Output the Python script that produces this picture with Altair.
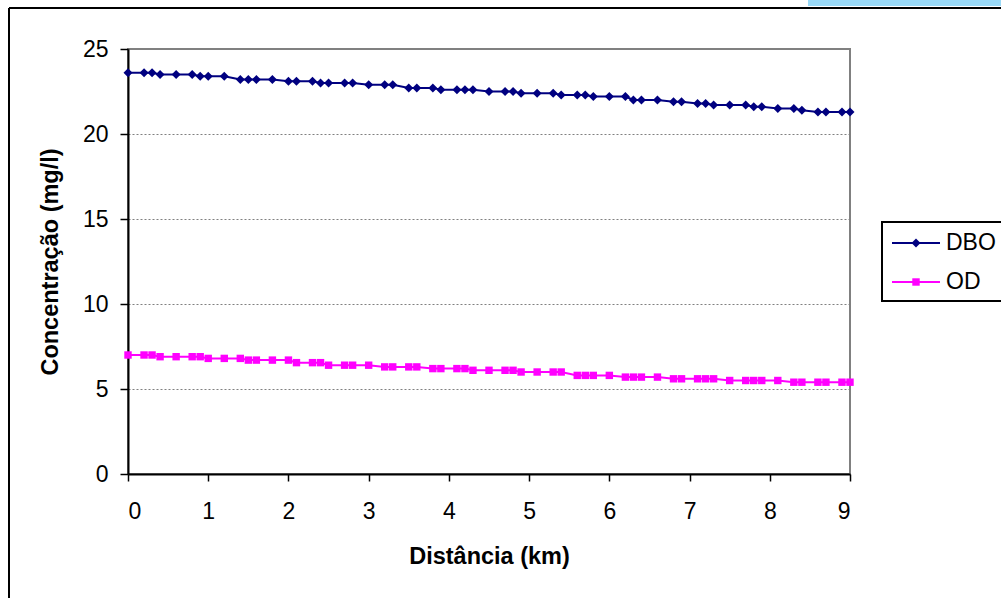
import altair as alt
import pandas as pd

# --- data ---
distance_km = [0.0, 0.2, 0.3, 0.4, 0.6, 0.8, 0.9, 1.0, 1.2, 1.4, 1.5, 1.6, 1.8, 2.0, 2.1,
               2.3, 2.4, 2.5, 2.7, 2.8, 3.0, 3.2, 3.3, 3.5, 3.6, 3.8, 3.9, 4.1, 4.2, 4.3,
               4.5, 4.7, 4.8, 4.9, 5.1, 5.3, 5.4, 5.6, 5.7, 5.8, 6.0, 6.2, 6.3, 6.4, 6.6,
               6.8, 6.9, 7.1, 7.2, 7.3, 7.5, 7.7, 7.8, 7.9, 8.1, 8.3, 8.4, 8.6, 8.7, 8.9, 9.0]

dbo = [23.6, 23.6, 23.6, 23.5, 23.5, 23.5, 23.4, 23.4, 23.4, 23.2, 23.2, 23.2, 23.2, 23.1, 23.1,
       23.1, 23.0, 23.0, 23.0, 23.0, 22.9, 22.9, 22.9, 22.7, 22.7, 22.7, 22.6, 22.6, 22.6, 22.6,
       22.5, 22.5, 22.5, 22.4, 22.4, 22.4, 22.3, 22.3, 22.3, 22.2, 22.2, 22.2, 22.0, 22.0, 22.0,
       21.9, 21.9, 21.8, 21.8, 21.7, 21.7, 21.7, 21.6, 21.6, 21.5, 21.5, 21.4, 21.3, 21.3, 21.3, 21.3]

od = [7.0, 7.0, 7.0, 6.9, 6.9, 6.9, 6.9, 6.8, 6.8, 6.8, 6.7, 6.7, 6.7, 6.7, 6.55,
      6.55, 6.55, 6.4, 6.4, 6.4, 6.4, 6.3, 6.3, 6.3, 6.3, 6.2, 6.2, 6.2, 6.2, 6.1,
      6.1, 6.1, 6.1, 6.0, 6.0, 6.0, 6.0, 5.8, 5.8, 5.8, 5.8, 5.7, 5.7, 5.7, 5.7,
      5.6, 5.6, 5.6, 5.6, 5.6, 5.5, 5.5, 5.5, 5.5, 5.5, 5.4, 5.4, 5.4, 5.4, 5.4, 5.4]

series_names = ["DBO", "OD"]
series_colors = ["#000080", "#FF00FF"]
series_shapes = ["diamond", "square"]
series_sizes = [81, 55]

x_ticks = list(range(0, 10))
y_ticks = [0, 5, 10, 15, 20, 25]

df = pd.DataFrame({
    "Distância": distance_km + distance_km,
    "Concentração": dbo + od,
    "Série": ["DBO"] * len(dbo) + ["OD"] * len(od),
})
legend_df = pd.DataFrame({"Série": series_names})

FONT = "Liberation Sans"
TICK_FS = 23
TITLE_FS = 23.5

x_enc = alt.X(
    "Distância:Q",
    scale=alt.Scale(domain=[0, 9], nice=False, zero=False),
    axis=alt.Axis(
        title="Distância (km)",
        values=x_ticks,
        format="d",
        grid=False,
        domainColor="black",
        domainWidth=2,
        tickColor="black",
        tickWidth=1.5,
        tickSize=7,
        labelFont=FONT,
        labelFontSize=TICK_FS,
        labelColor="black",
        labelPadding=19,
        titleFont=FONT,
        titleFontSize=TITLE_FS,
        titleFontWeight="bold",
        titleColor="black",
        titlePadding=21,
    ),
)

y_enc = alt.Y(
    "Concentração:Q",
    scale=alt.Scale(domain=[0, 25], nice=False),
    axis=alt.Axis(
        title="Concentração (mg/l)",
        values=y_ticks,
        grid=True,
        gridColor="#808080",
        gridDash=[2, 2],
        gridWidth=1,
        domainColor="black",
        domainWidth=2,
        tickColor="black",
        tickWidth=1.5,
        tickSize=8,
        labelFont=FONT,
        labelFontSize=TICK_FS,
        labelColor="black",
        labelPadding=12,
        titleFont=FONT,
        titleFontSize=TITLE_FS,
        titleFontWeight="bold",
        titleColor="black",
        titlePadding=20,
    ),
)

stroke_scale = alt.Scale(domain=series_names, range=series_colors)
fill_scale = alt.Scale(domain=series_names, range=series_colors)
shape_scale = alt.Scale(domain=series_names, range=series_shapes)
size_scale = alt.Scale(domain=series_names, range=series_sizes)

base = alt.Chart(df)

lines = base.mark_line(strokeWidth=2).encode(
    x=x_enc,
    y=y_enc,
    stroke=alt.Stroke("Série:N", scale=stroke_scale, legend=None),
)

points = base.mark_point(filled=True, opacity=1, strokeWidth=0).encode(
    x=x_enc,
    y=y_enc,
    fill=alt.Fill("Série:N", scale=fill_scale, legend=None),
    shape=alt.Shape("Série:N", scale=shape_scale, legend=None),
    size=alt.Size("Série:N", scale=size_scale, legend=None),
)

one = pd.DataFrame({"k": [0]})
border_left = alt.Chart(one).mark_rule(color="black", strokeWidth=2).encode(
    x=alt.value(-119), y=alt.value(-41), y2=alt.value(560)
)
border_top = alt.Chart(one).mark_rule(color="black", strokeWidth=2).encode(
    x=alt.value(-119), x2=alt.value(880), y=alt.value(-41)
)
deco = alt.Chart(one).mark_rect(color="#99D9F7").encode(
    x=alt.value(680), x2=alt.value(880), y=alt.value(-49), y2=alt.value(-43)
)

main = alt.layer(deco, border_left, border_top, lines, points)

# --- legend built from the series names (point scale, default 0.5 padding) ---
leg_y_scale = alt.Scale(domain=series_names, range=[174.5, 252.5])

leg_box = alt.Chart(one).mark_rect(fill="white", stroke="black", strokeWidth=2).encode(
    x=alt.value(754), x2=alt.value(880), y=alt.value(173), y2=alt.value(252)
)
leg_lines = alt.Chart(legend_df).mark_rule(strokeWidth=2).encode(
    x=alt.value(764),
    x2=alt.value(812),
    y=alt.Y("Série:N", scale=leg_y_scale, axis=None),
    stroke=alt.Stroke("Série:N", scale=stroke_scale, legend=None),
)
leg_marks = alt.Chart(legend_df).mark_point(filled=True, opacity=1, strokeWidth=0).encode(
    x=alt.value(788),
    y=alt.Y("Série:N", scale=leg_y_scale, axis=None),
    fill=alt.Fill("Série:N", scale=fill_scale, legend=None),
    shape=alt.Shape("Série:N", scale=shape_scale, legend=None),
    size=alt.Size("Série:N", scale=size_scale, legend=None),
)
leg_text = alt.Chart(legend_df).mark_text(
    align="left", baseline="middle", font=FONT, fontSize=23, color="black"
).encode(
    x=alt.value(818),
    y=alt.Y("Série:N", scale=leg_y_scale, axis=None),
    text="Série:N",
)

legend_layer = alt.layer(leg_box, leg_lines, leg_marks, leg_text)

chart = alt.layer(main, legend_layer).resolve_scale(
    y="independent"
).properties(
    width=722,
    height=425,
    autosize=alt.AutoSizeParams(type="none"),
    padding={"left": 128, "top": 49, "right": 151, "bottom": 124},
    background="white",
).configure_view(
    stroke="#808080", strokeWidth=2
)

chart.save("out.html", embed_options={"renderer": "svg", "actions": False})
